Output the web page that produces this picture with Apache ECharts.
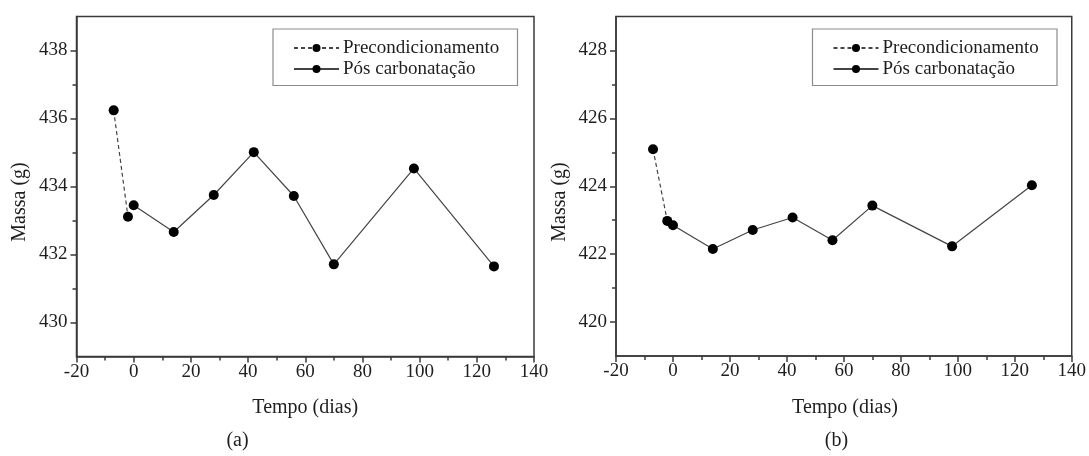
<!DOCTYPE html>
<html>
<head>
<meta charset="utf-8">
<title>Massa vs Tempo</title>
<script src="https://cdn.jsdelivr.net/npm/echarts@6/dist/echarts.min.js"></script>
<style>
  html, body { margin: 0; padding: 0; background: #fff; }
  #chart { width: 1089px; height: 456px; }
</style>
</head>
<body>
<div id="chart"></div>
<script>
// Days of each weighing
const daysPre = [-7, -2];
const daysPost = [0, 14, 28, 42, 56, 70, 98, 126];

// Specimen (a), mass in grams
const massPreA = [436.24, 433.11];
const massPostA = [433.45, 432.66, 433.75, 435.01, 433.72, 431.71, 434.53, 431.65];

// Specimen (b), mass in grams
const massPreB = [425.09, 422.98];
const massPostB = [422.85, 422.15, 422.71, 423.08, 422.41, 423.43, 422.23, 424.03];

// Y ranges and tick values
const yRangeA = [429, 439];
const yMajorA = [430, 432, 434, 436, 438];
const yMinorA = [431, 433, 435, 437];
const yRangeB = [419, 429];
const yMajorB = [420, 422, 424, 426, 428];
const yMinorB = [421, 423, 425, 427];

const seriesNames = ['Precondicionamento', 'Pós carbonatação'];
const xTitle = 'Tempo (dias)';
const yTitle = 'Massa (g)';
const panelLabels = ['(a)', '(b)'];

const FONT = '"Liberation Serif", "Times New Roman", serif';
const INK = '#1e1e1e';
const AXIS = '#3a3a3a';

const grids = [
  { left: 76.5, top: 16.5, width: 457.5, height: 340 },
  { left: 616, top: 16.5, width: 458, height: 339.5 }
];

function pairs(xs, ys) { return xs.map((x, i) => [x, ys[i]]); }

const panels = [
  { pre: massPreA, post: massPostA, range: yRangeA, major: yMajorA, minor: yMinorA },
  { pre: massPreB, post: massPostB, range: yRangeB, major: yMajorB, minor: yMinorB }
];

const xAxes = [], yAxes = [], series = [], legends = [], graphics = [];

panels.forEach((p, i) => {
  const g = grids[i];
  xAxes.push({
    type: 'value', gridIndex: i, min: -20, max: 140, interval: 20,
    axisLine: { show: true, onZero: false, lineStyle: { color: AXIS, width: 1.5 } },
    axisTick: { show: true, inside: false, length: 6, lineStyle: { color: AXIS, width: 1.5 } },
    minorTick: { show: true, splitNumber: 2, length: 4, lineStyle: { color: AXIS, width: 1.5 } },
    axisLabel: { fontFamily: FONT, fontSize: 19, color: INK, margin: 6 },
    splitLine: { show: false }, minorSplitLine: { show: false }
  });
  // main y axis: labelled major ticks
  yAxes.push({
    type: 'value', gridIndex: i, min: p.range[0], max: p.range[1], position: 'left',
    axisLine: { show: true, onZero: false, lineStyle: { color: AXIS, width: 1.5 } },
    axisTick: { show: true, inside: false, length: 6, customValues: p.major, lineStyle: { color: AXIS, width: 1.5 } },
    axisLabel: { customValues: p.major, fontFamily: FONT, fontSize: 19, color: INK, margin: 9 },
    splitLine: { show: false }
  });
  // companion y axis carrying only the short minor ticks
  yAxes.push({
    type: 'value', gridIndex: i, min: p.range[0], max: p.range[1], position: 'left',
    axisLine: { show: false, onZero: false },
    axisTick: { show: true, inside: false, length: 4, customValues: p.minor, lineStyle: { color: AXIS, width: 1.5 } },
    axisLabel: { show: false },
    splitLine: { show: false }
  });

  series.push({
    name: seriesNames[0], type: 'line', xAxisIndex: i, yAxisIndex: i * 2,
    data: pairs(daysPre, p.pre),
    symbol: 'circle', symbolSize: 10,
    itemStyle: { color: '#000' },
    lineStyle: { color: '#444', width: 1.2, type: [4, 3] },
    animation: false
  });
  series.push({
    name: seriesNames[1], type: 'line', xAxisIndex: i, yAxisIndex: i * 2,
    data: pairs(daysPost, p.post),
    symbol: 'circle', symbolSize: 10,
    itemStyle: { color: '#000' },
    lineStyle: { color: '#444', width: 1.2, type: 'solid' },
    animation: false
  });

  const boxLeft = g.left + 196.5;
  legends.push({
    orient: 'vertical', left: boxLeft + 20, top: 38.5, padding: 0,
    itemWidth: 45, itemHeight: 10, itemGap: 2,
    selectedMode: false,
    data: seriesNames,
    textStyle: { fontFamily: FONT, fontSize: 19, color: INK, padding: [0, 0, 0, -1] }
  });
  graphics.push({
    type: 'rect', z: 1,
    shape: { x: boxLeft, y: 29, width: 244.5, height: 56.5 },
    style: { fill: 'transparent', stroke: '#8c8c8c', lineWidth: 1.2 }
  });

  graphics.push({
    type: 'text', x: g.left - 56.5, y: 202, rotation: Math.PI / 2,
    style: { text: yTitle, font: '20px ' + FONT, fill: INK, align: 'center', verticalAlign: 'middle' }
  });
  graphics.push({
    type: 'text', x: g.left + g.width / 2, y: 408,
    style: { text: xTitle, font: '20px ' + FONT, fill: INK, align: 'center', verticalAlign: 'middle' }
  });
  graphics.push({
    type: 'text', x: i === 0 ? 237.5 : 836.5, y: 441,
    style: { text: panelLabels[i], font: '20px ' + FONT, fill: INK, align: 'center', verticalAlign: 'middle' }
  });
});

const chart = echarts.init(document.getElementById('chart'), null, { renderer: 'canvas' });
chart.setOption({
  backgroundColor: '#fff',
  animation: false,
  grid: grids.map(g => Object.assign({ show: true, borderColor: AXIS, borderWidth: 1.5, backgroundColor: 'transparent', containLabel: false }, g)),
  xAxis: xAxes,
  yAxis: yAxes,
  legend: legends,
  series: series,
  graphic: graphics
});
</script>
</body>
</html>
